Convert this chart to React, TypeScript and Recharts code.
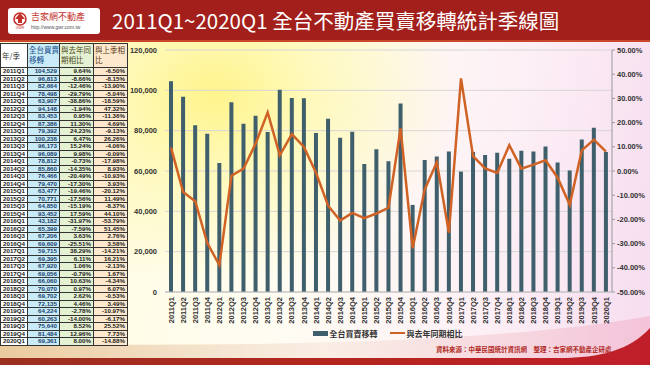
import { Bar, CartesianGrid, ComposedChart, Legend, Line, XAxis, YAxis } from "recharts"

const quarters = [
  "2011Q1", "2011Q2", "2011Q3", "2011Q4", "2012Q1", "2012Q2", "2012Q3", "2012Q4",
  "2013Q1", "2013Q2", "2013Q3", "2013Q4", "2014Q1", "2014Q2", "2014Q3", "2014Q4",
  "2015Q1", "2015Q2", "2015Q3", "2015Q4", "2016Q1", "2016Q2", "2016Q3", "2016Q4",
  "2017Q1", "2017Q2", "2017Q3", "2017Q4", "2018Q1", "2018Q2", "2018Q3", "2018Q4",
  "2019Q1", "2019Q2", "2019Q3", "2019Q4", "2020Q1",
]

// 全台買賣移轉 (棟)
const transfers = [
  104529, 96813, 82664, 78498, 63907, 94148, 83453, 87386,
  79392, 100238, 96173, 96089, 78812, 85860, 76466, 79470,
  63477, 70771, 64850, 93452, 43182, 65399, 67206, 69609,
  59715, 69395, 67920, 69056, 66060, 70070, 69702, 72135,
  64224, 60263, 75640, 81484, 69361,
]

// 與去年同期相比 (%)
const yoy = [
  9.64, -8.66, -12.46, -29.79, -38.86, -1.94, 0.95, 11.3,
  24.23, 6.47, 15.24, 9.98, -0.73, -14.35, -20.49, -17.3,
  -19.46, -17.56, -15.19, 17.59, -31.97, -7.59, 3.63, -25.51,
  38.29, 6.11, 1.06, -0.79, 10.63, 0.97, 2.62, 4.46,
  -2.78, -14.0, 8.52, 12.96, 8.0,
]

// 與上季相比 (%)
const qoq = [
  -6.5, -8.15, -13.9, -5.04, -18.59, 47.32, -11.36, 4.69,
  -9.13, 26.26, -4.06, -0.09, -17.98, 8.93, -10.93, 3.93,
  -20.12, 11.49, -8.37, 44.1, -53.79, 51.45, 2.76, 3.58,
  -14.21, 16.21, -2.13, 1.67, -4.34, 6.07, -0.53, 3.49,
  -10.97, -6.17, 25.52, 7.73, -14.88,
]

const leftTicks = [0, 20000, 40000, 60000, 80000, 100000, 120000]
const rightTicks = [-50, -40, -30, -20, -10, 0, 10, 20, 30, 40, 50]

const seriesNames = ["全台買賣移轉", "與去年同期相比"]

const BAR = "#3e5f6b"
const LINE = "#cf6224"
const NUM_FONT = "'Liberation Sans', Arial, sans-serif"
const CJK_FONT = "'Noto Sans CJK TC', 'Noto Sans', sans-serif"

const chartData = quarters.map((q, i) => ({ q, transfer: transfers[i], yoy: yoy[i] }))

const colX = [0, 27, 59, 93, 127]
const colBg = ["#ffffff", "#c8ebf7", "#e5f1d3", "#fde8cd"]
const headerTop = 43
const headerH = 24
const rowH = 7.5

function QuarterTick(props: any) {
  const { x, y, payload } = props
  return (
    <g transform={`translate(${x},${y})`}>
      <text
        transform="rotate(-90)"
        x={-3}
        dy="0.35em"
        textAnchor="end"
        fontSize={7.5}
        fontWeight="bold"
        fontFamily={NUM_FONT}
        fill="#333"
      >
        {payload.value}
      </text>
    </g>
  )
}

function LegendContent() {
  return (
    <div
      style={{
        display: "flex",
        justifyContent: "center",
        alignItems: "center",
        height: 14,
        gap: 12,
        fontFamily: CJK_FONT,
        fontSize: 8,
        fontWeight: 700,
        color: "#333",
      }}
    >
      <span style={{ display: "flex", alignItems: "center", gap: 2 }}>
        <span style={{ display: "inline-block", width: 15, height: 5, background: BAR }} />
        {seriesNames[0]}
      </span>
      <span style={{ display: "flex", alignItems: "center", gap: 2 }}>
        <span style={{ display: "inline-block", width: 15, height: 2.5, background: LINE }} />
        {seriesNames[1]}
      </span>
    </div>
  )
}

function DataTable() {
  const cell = (i: number, top: number, h: number, content: any, align: string, extra: any = {}) => (
    <div
      key={`${i}-${top}`}
      style={{
        position: "absolute",
        left: colX[i],
        top,
        width: colX[i + 1] - colX[i],
        height: h,
        boxSizing: "border-box",
        borderLeft: "1px solid #333",
        borderTop: "1px solid #333",
        background: colBg[i],
        textAlign: align as any,
        padding: "0 2px",
        overflow: "hidden",
        whiteSpace: "nowrap",
        ...extra,
      }}
    >
      {content}
    </div>
  )
  const headers = ["年/季", "全台買賣\n移轉", "與去年同\n期相比", "與上季相\n比"]
  const headerColors = ["#333", "#1b4f8c", "#4a4a1a", "#5a3a1a"]
  const rows = quarters.map((q, r) => {
    const top = headerTop + headerH + r * rowH
    const style = { fontFamily: NUM_FONT, fontSize: 6.2, fontWeight: 700, lineHeight: `${rowH - 1}px`, color: "#222" }
    return [
      cell(0, top, rowH, q, "left", style),
      cell(1, top, rowH, transfers[r].toLocaleString("en-US"), "right", { ...style, color: "#1b3f6c" }),
      cell(2, top, rowH, `${yoy[r].toFixed(2)}%`, "right", style),
      cell(3, top, rowH, `${qoq[r].toFixed(2)}%`, "right", style),
    ]
  })
  return (
    <div style={{ position: "absolute", left: 0, top: 0, width: 130, height: 350 }}>
      {headers.map((h, i) =>
        cell(i, headerTop, headerH, h, "left", {
          fontFamily: CJK_FONT,
          fontSize: 7.5,
          lineHeight: "10px",
          padding: "1px 0 0 1px",
          whiteSpace: "pre",
          color: headerColors[i],
          display: "flex",
          alignItems: i === 0 ? "center" : "flex-start",
        })
      )}
      {rows}
      <div
        style={{
          position: "absolute",
          left: 0,
          top: headerTop,
          width: colX[4] + 1,
          height: headerH + quarters.length * rowH + 1,
          boxSizing: "border-box",
          borderRight: "1px solid #333",
          borderBottom: "1px solid #333",
          pointerEvents: "none",
        }}
      />
    </div>
  )
}

export default function App() {
  return (
    <div
      style={{
        position: "absolute",
        left: 0,
        top: 0,
        width: 650,
        height: 365,
        overflow: "hidden",
        background:
          "radial-gradient(ellipse 240px 190px at 215px 95px, #fff48c 0%, rgba(255,248,170,0.75) 40%, rgba(255,255,255,0) 100%), linear-gradient(100deg, #fffbd8 0%, #fffdf2 45%, #fdf0f6 75%, #f6dcef 100%)",
      }}
    >
      <svg width={650} height={365} style={{ position: "absolute", left: 0, top: 0 }}>
        <defs>
          <linearGradient id="band" x1="0" x2="1" y1="0" y2="0">
            <stop offset="0" stopColor="#d9a36a" stopOpacity="0.55" />
            <stop offset="0.5" stopColor="#f4e2d6" stopOpacity="0.5" />
            <stop offset="1" stopColor="#f3b8d0" stopOpacity="0.7" />
          </linearGradient>
          <linearGradient id="red" x1="0" x2="1" y1="0" y2="0">
            <stop offset="0" stopColor="#9a3020" />
            <stop offset="0.5" stopColor="#b3261e" />
            <stop offset="1" stopColor="#c01f2a" />
          </linearGradient>
        </defs>
        <path d="M0,344 C220,346 480,346 650,316 L650,365 L0,365 Z" fill="url(#band)" />
        <path d="M0,358 L560,358 C600,358 630,350 650,328 L650,365 L0,365 Z" fill="url(#red)" />
      </svg>

      <div
        style={{
          position: "absolute",
          left: 0,
          top: 0,
          width: 650,
          height: 40,
          background: "#a21f1b",
          borderBottom: "2px solid #c9482c",
        }}
      />
      <div
        style={{
          position: "absolute",
          left: 8,
          top: 8,
          width: 92,
          height: 26,
          background: "#fff",
          borderRadius: 3,
        }}
      >
        <svg width={16} height={18} style={{ position: "absolute", left: 4, top: 3 }}>
          <circle cx={8} cy={8} r={6} fill="none" stroke="#c4302b" strokeWidth={1.6} />
          <path d="M8,2 L13,8 L10,8 L10,12 L6,12 L6,8 L3,8 Z" fill="#c4302b" />
          <text x={8} y={17.5} fontSize={3.5} textAnchor="middle" fill="#c4302b" fontFamily={NUM_FONT}>
            GWR
          </text>
        </svg>
        <div
          style={{
            position: "absolute",
            left: 23,
            top: 3,
            fontFamily: CJK_FONT,
            fontSize: 9,
            lineHeight: "11px",
            color: "#c4302b",
            whiteSpace: "nowrap",
          }}
        >
          吉家網不動產
        </div>
        <div
          style={{
            position: "absolute",
            left: 23,
            top: 16,
            fontFamily: NUM_FONT,
            fontSize: 5,
            color: "#555",
            whiteSpace: "nowrap",
          }}
        >
          http://www.gwr.com.tw
        </div>
      </div>
      <div
        style={{
          position: "absolute",
          left: 112,
          top: 6,
          fontFamily: CJK_FONT,
          fontSize: 20.5,
          lineHeight: "28px",
          color: "#fff",
          whiteSpace: "nowrap",
        }}
      >
        2011Q1~2020Q1 全台不動產買賣移轉統計季線圖
      </div>

      <DataTable />

      <div style={{ position: "absolute", left: 125, top: 42 }}>
        <ComposedChart width={525} height={300} data={chartData} margin={{ top: 8, right: 0, bottom: 2, left: 0 }}>
          <CartesianGrid yAxisId="left" vertical={false} stroke="#d6d6d6" />
          <XAxis
            dataKey="q"
            interval={0}
            height={34}
            tick={<QuarterTick />}
            tickSize={0}
            tickMargin={2}
            axisLine={{ stroke: "#bbb" }}
            tickLine={false}
          />
          <YAxis
            yAxisId="left"
            width={40}
            domain={[0, 120000]}
            ticks={leftTicks}
            tickFormatter={(v: number) => v.toLocaleString("en-US")}
            axisLine={false}
            tickLine={false}
            tickSize={0}
            tickMargin={8}
            tick={{ fontSize: 7.5, fontWeight: 700, fill: "#333", fontFamily: NUM_FONT }}
          />
          <YAxis
            yAxisId="right"
            orientation="right"
            width={38}
            domain={[-50, 50]}
            ticks={rightTicks}
            tickFormatter={(v: number) => `${v.toFixed(2)}%`}
            axisLine={{ stroke: "#999" }}
            tickLine={{ stroke: "#999" }}
            tickSize={3}
            tickMargin={2}
            tick={{ fontSize: 7.5, fontWeight: 700, fill: "#333", fontFamily: NUM_FONT }}
          />
          <Legend verticalAlign="bottom" height={14} content={<LegendContent />} />
          <Bar
            yAxisId="left"
            dataKey="transfer"
            name={seriesNames[0]}
            fill={BAR}
            barSize={4}
            isAnimationActive={false}
          />
          <Line
            yAxisId="right"
            dataKey="yoy"
            name={seriesNames[1]}
            type="linear"
            stroke={LINE}
            strokeWidth={2.5}
            dot={false}
            isAnimationActive={false}
          />
        </ComposedChart>
      </div>

      <div
        style={{
          position: "absolute",
          left: 436,
          top: 344,
          fontFamily: CJK_FONT,
          fontSize: 6.5,
          lineHeight: "10px",
          fontWeight: 700,
          color: "#b02a1e",
          whiteSpace: "nowrap",
        }}
      >
        資料來源：中華民國統計資訊網　整理：吉家網不動產企研處
      </div>
    </div>
  )
}
